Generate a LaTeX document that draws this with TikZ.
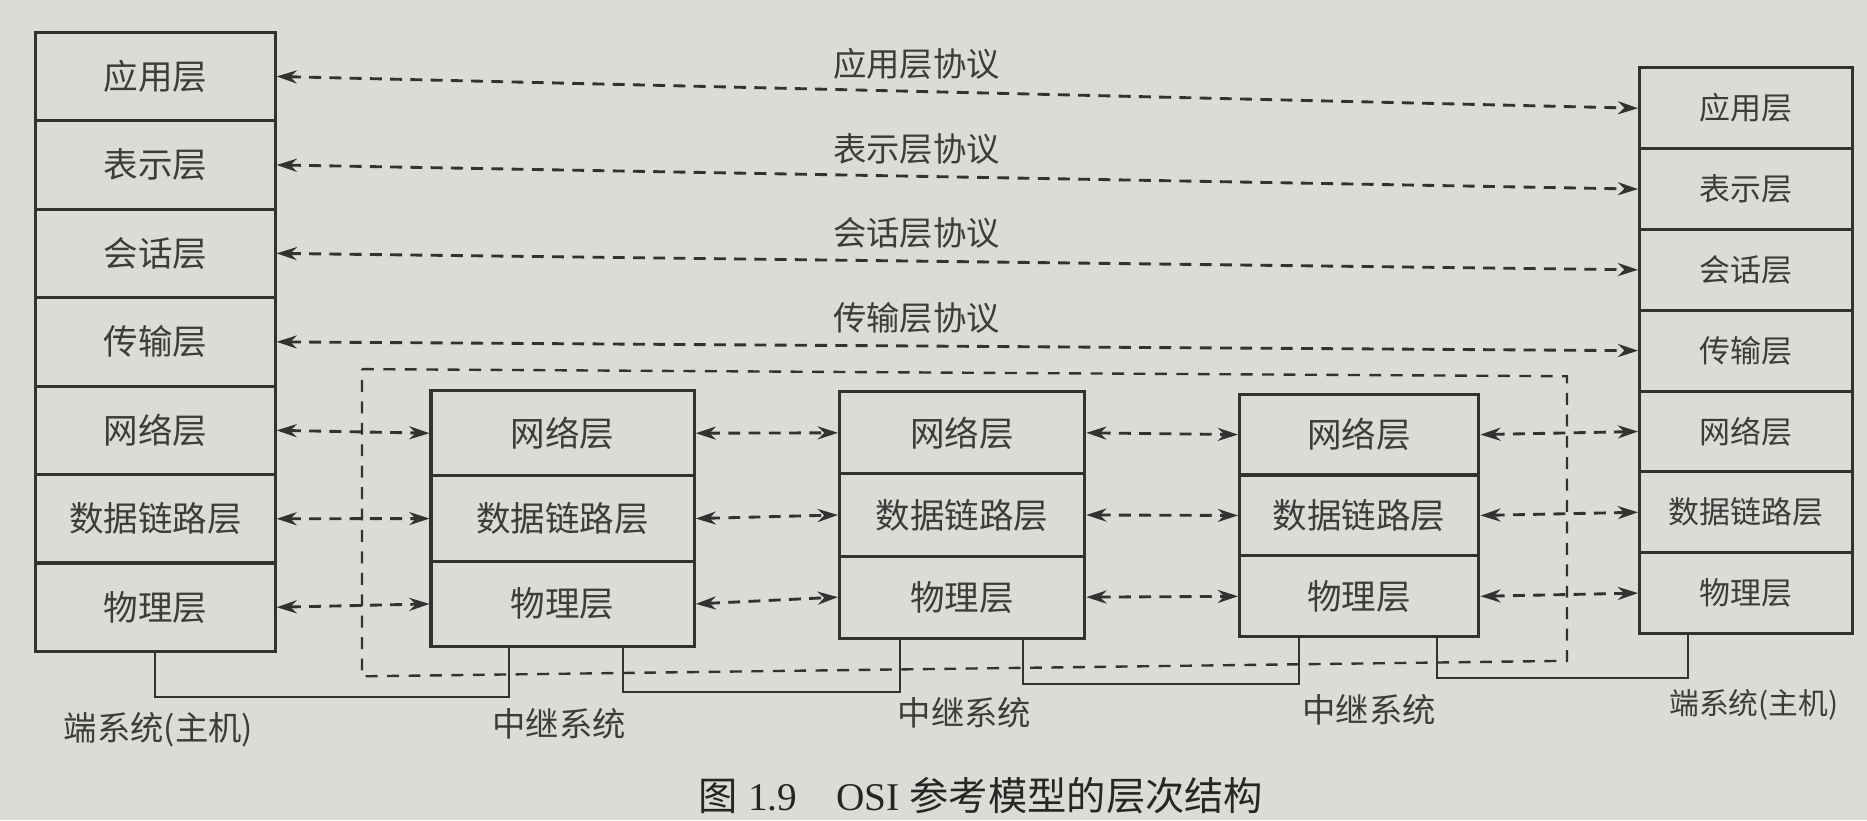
\documentclass[tikz,border=0pt]{standalone}
\usepackage{fontspec}
\setmainfont{Liberation Serif}
\newfontfamily\cjk{Noto Sans CJK SC}
\usetikzlibrary{arrows.meta}
\definecolor{paper}{RGB}{221,219,213}
\definecolor{ink}{RGB}{50,50,50}
\definecolor{inktext}{RGB}{60,60,60}
\tikzset{
	layer/.style={draw=ink, line width=2.6pt, inner sep=0pt, text=inktext, font=\cjk\fontsize{29}{31}\selectfont},
	leftbox/.style={layer, minimum width=201pt, minimum height=74.3pt},
	rightbox/.style={layer, minimum width=179pt, minimum height=67.9pt, font=\cjk\fontsize{26}{28}\selectfont},
	relaybox/.style={layer, minimum width=#1},
	proto/.style={<->, draw=ink, line width=2.4pt, dash pattern=on 10pt off 7pt},
	fence/.style={draw=ink, line width=2pt, dash pattern=on 10pt off 8pt},
	wire/.style={draw=ink, line width=1.7pt},
	systext/.style={text=inktext, inner sep=2pt, font=\cjk\fontsize{28}{30}\selectfont},
	figtitle/.style={text=black!85, inner sep=2pt, font=\fontsize{33}{36}\selectfont},
}
\begin{document}
\begin{tikzpicture}[x=1pt, y=-1pt, >={Stealth[length=17pt, width=11pt]}]
	\fill[paper] (0,0) rectangle (1568,689);
	% relay area
	\draw[fence] (304,310) -- (1316,316) -- (1316,555) -- (304,568) -- cycle;
	% end system on the left
	\node[leftbox] (leftApp) at (130.5,64.2) {应用层};
	\node[leftbox] (leftPres) at (130.5,138.5) {表示层};
	\node[leftbox] (leftSess) at (130.5,212.8) {会话层};
	\node[leftbox] (leftTrans) at (130.5,287.1) {传输层};
	\node[leftbox] (leftNet) at (130.5,361.4) {网络层};
	\node[leftbox] (leftLink) at (130.5,435.7) {数据链路层};
	\node[leftbox] (leftPhys) at (130.5,510.0) {物理层};
	% end system on the right
	\node[rightbox] (rightApp) at (1466.5,90.9) {应用层};
	\node[rightbox] (rightPres) at (1466.5,158.8) {表示层};
	\node[rightbox] (rightSess) at (1466.5,226.6) {会话层};
	\node[rightbox] (rightTrans) at (1466.5,294.5) {传输层};
	\node[rightbox] (rightNet) at (1466.5,362.4) {网络层};
	\node[rightbox] (rightLink) at (1466.5,430.2) {数据链路层};
	\node[rightbox] (rightPhys) at (1466.5,498.1) {物理层};
	% relay systems
	\node[relaybox=221pt, minimum height=71.7pt] (relayANet) at (472.5,363.8) {网络层};
	\node[relaybox=221pt, minimum height=71.7pt] (relayALink) at (472.5,435.5) {数据链路层};
	\node[relaybox=221pt, minimum height=71.7pt] (relayAPhys) at (472.5,507.2) {物理层};
	\node[relaybox=206pt, minimum height=69pt] (relayBNet) at (808,363.5) {网络层};
	\node[relaybox=206pt, minimum height=69pt] (relayBLink) at (808,432.5) {数据链路层};
	\node[relaybox=206pt, minimum height=69pt] (relayBPhys) at (808,501.5) {物理层};
	\node[relaybox=201pt, minimum height=67.9pt] (relayCNet) at (1141.5,365) {网络层};
	\node[relaybox=201pt, minimum height=67.9pt] (relayCLink) at (1141.5,432.9) {数据链路层};
	\node[relaybox=201pt, minimum height=67.9pt] (relayCPhys) at (1141.5,500.8) {物理层};
	% peer protocols
	\draw[proto] (leftApp.east) -- node[systext, pos=.47, above=7pt] {应用层协议} (rightApp.west);
	\draw[proto] (leftPres.east) -- node[systext, pos=.47, above=7pt] {表示层协议} (rightPres.west);
	\draw[proto] (leftSess.east) -- node[systext, pos=.47, above=7pt] {会话层协议} (rightSess.west);
	\draw[proto] (leftTrans.east) -- node[systext, pos=.47, above=7pt] {传输层协议} (rightTrans.west);
	\draw[proto] (leftNet.east) -- (relayANet.west);
	\draw[proto] (leftLink.east) -- (relayALink.west);
	\draw[proto] (leftPhys.east) -- (relayAPhys.west);
	\draw[proto] (relayANet.east) -- (relayBNet.west);
	\draw[proto] (relayALink.east) -- (relayBLink.west);
	\draw[proto] (relayAPhys.east) -- (relayBPhys.west);
	\draw[proto] (relayBNet.east) -- (relayCNet.west);
	\draw[proto] (relayBLink.east) -- (relayCLink.west);
	\draw[proto] (relayBPhys.east) -- (relayCPhys.west);
	\draw[proto] (relayCNet.east) -- (rightNet.west);
	\draw[proto] (relayCLink.east) -- (rightLink.west);
	\draw[proto] (relayCPhys.east) -- (rightPhys.west);
	% physical links
	\draw[wire] (leftPhys.south) -- ++(0,37) -| ([xshift=-45pt]relayAPhys.south);
	\draw[wire] ([xshift=50.5pt]relayAPhys.south) -- ++(0,37) -| ([xshift=-52pt]relayBPhys.south);
	\draw[wire] ([xshift=51pt]relayBPhys.south) -- ++(0,37) -| ([xshift=-50.5pt]relayCPhys.south);
	\draw[wire] ([xshift=65.5pt]relayCPhys.south) -- ++(0,33) -| ([xshift=-48.5pt]rightPhys.south);
	\node[systext] (leftHostText) at (133,613) {端系统(主机)};
	\node[systext] (relayAText) at (469.5,608) {中继系统};
	\node[systext] (relayBText) at (810,599) {中继系统};
	\node[systext] (relayCText) at (1150,596) {中继系统};
	\node[systext, font=\cjk\fontsize{25}{27}\selectfont] (rightHostText) at (1473,592) {端系统(主机)};
	\node[figtitle] (figCaption) at (824,668) {{\cjk 图}~1.9\hspace{1em}OSI~{\cjk 参考模型的层次结构}};
\end{tikzpicture}
\end{document}
